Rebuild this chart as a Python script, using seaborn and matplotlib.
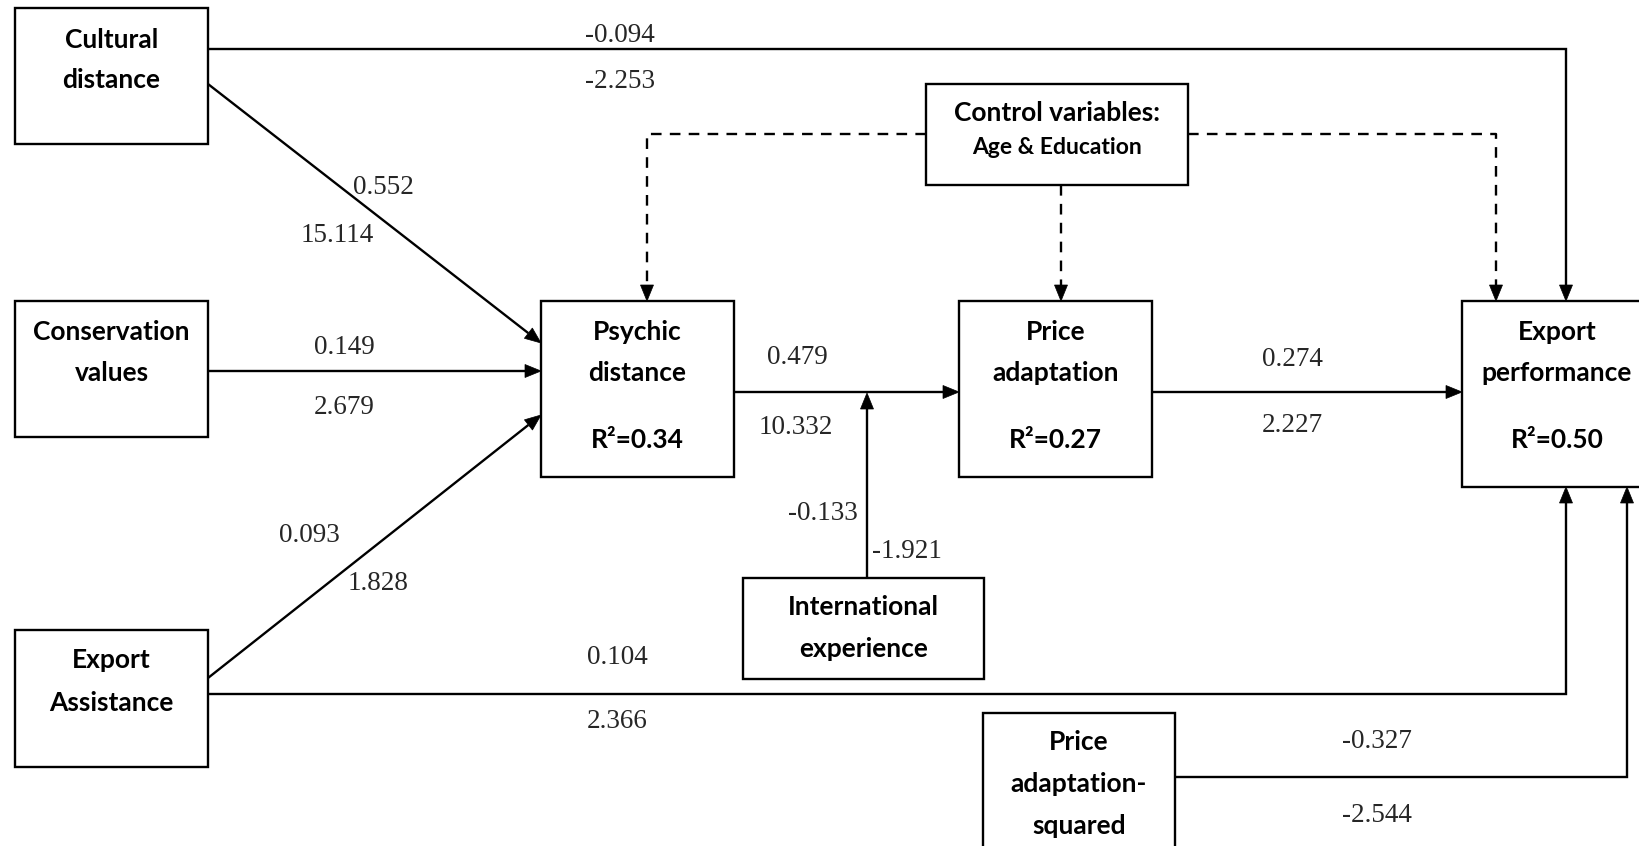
import matplotlib
matplotlib.use("Agg")
import matplotlib.pyplot as plt
from matplotlib.patches import Rectangle, Polygon
import numpy as np
import seaborn as sns

# ---------------- data ----------------
node_ids = ["cultural", "conservation", "assist", "psychic", "price",
            "export", "control", "intl", "pricesq"]
node_lines = [["Cultural", "distance"],
              ["Conservation", "values"],
              ["Export", "Assistance"],
              ["Psychic", "distance"],
              ["Price", "adaptation"],
              ["Export", "performance"],
              ["Control variables:", "Age & Education"],
              ["International", "experience"],
              ["Price", "adaptation-", "squared"]]
r_squared = {"psychic": "0.34", "price": "0.27", "export": "0.50"}

path_ids = ["cd_ep", "cd_pd", "cv_pd", "ea_pd", "ea_ep", "pd_pa", "ie_mod", "pa_ep", "pasq_ep"]
path_beta = ["-0.094", "0.552", "0.149", "0.093", "0.104", "0.479", "-0.133", "0.274", "-0.327"]
path_t = ["-2.253", "15.114", "2.679", "1.828", "2.366", "10.332", "-1.921", "2.227", "-2.544"]

# ---------------- layout (pixel space) ----------------
W, H = 1639, 846
boxes = {
    "cultural": (15, 8, 208, 144),
    "conservation": (15, 301, 208, 437),
    "assist": (15, 630, 208, 767),
    "psychic": (541, 301, 734, 477),
    "price": (959, 301, 1152, 477),
    "export": (1462, 301, 1660, 487),
    "control": (926, 84, 1188, 185),
    "intl": (743, 578, 984, 679),
    "pricesq": (983, 713, 1175, 870),
}
text_y = {
    "cultural": [40, 80],
    "conservation": [332, 373],
    "assist": [660, 703],
    "psychic": [332, 373, 440],
    "price": [332, 373, 440],
    "export": [332, 373, 440],
    "control": [113, 148],
    "intl": [607, 649],
    "pricesq": [742, 784, 826],
}
text_x = {"export": 1557}

edges = {
    "cd_ep": [(208, 49), (1566, 49), (1566, 301)],
    "cd_pd": [(208, 84), (541, 343)],
    "cv_pd": [(208, 371), (541, 371)],
    "ea_pd": [(208, 678), (541, 415)],
    "ea_ep": [(208, 694), (1566, 694), (1566, 487)],
    "pd_pa": [(734, 392), (959, 392)],
    "ie_mod": [(867, 578), (867, 393)],
    "pa_ep": [(1152, 392), (1462, 392)],
    "pasq_ep": [(1175, 777), (1627, 777), (1627, 487)],
}
dashed = [
    [(926, 134), (647, 134), (647, 301)],
    [(1061, 185), (1061, 301)],
    [(1188, 134), (1496, 134), (1496, 301)],
]
beta_pos = {"cd_ep": (620, 35), "cd_pd": (383, 188), "cv_pd": (344, 348),
            "ea_pd": (309, 535), "ea_ep": (617, 657), "pd_pa": (797, 358),
            "ie_mod": (823, 513), "pa_ep": (1292, 360), "pasq_ep": (1377, 741)}
t_pos = {"cd_ep": (620, 82), "cd_pd": (337, 235), "cv_pd": (344, 407),
         "ea_pd": (378, 583), "ea_ep": (617, 721), "pd_pa": (796, 428),
         "ie_mod": (907, 551), "pa_ep": (1292, 425), "pasq_ep": (1377, 815)}

# ---------------- drawing ----------------
sns.set_theme(style="white")
plt.rcParams["font.family"] = ["Lato", "DejaVu Sans"]

fig = plt.figure(figsize=(W / 100, H / 100), dpi=100)
ax = fig.add_axes([0, 0, 1, 1])
ax.set_xlim(0, W)
ax.set_ylim(H, 0)
ax.axis("off")

LW = 1.7
SERIF = ["Liberation Serif", "DejaVu Serif"]
BOX_FS = 19
NUM_FS = 19.5


def head(p0, p1, length=16, width=13):
    p0 = np.array(p0, float)
    p1 = np.array(p1, float)
    d = p1 - p0
    d /= np.hypot(*d)
    n = np.array([-d[1], d[0]])
    base = p1 - d * length
    tri = [p1, base + n * width / 2, base - n * width / 2]
    ax.add_patch(Polygon(tri, closed=True, facecolor="black", edgecolor="black", lw=0.5, zorder=4))
    return base


def polyline(pts, ls="-"):
    base = head(pts[-2], pts[-1])
    xs = [p[0] for p in pts[:-1]] + [base[0]]
    ys = [p[1] for p in pts[:-1]] + [base[1]]
    if ls == "-":
        ax.plot(xs, ys, color="black", lw=LW, solid_capstyle="butt", solid_joinstyle="miter", zorder=3)
    else:
        ax.plot(xs, ys, color="black", lw=LW, linestyle=(0, (4.5, 3.5)), dash_capstyle="butt", zorder=3)


for nid, lines in zip(node_ids, node_lines):
    x0, y0, x1, y1 = boxes[nid]
    ax.add_patch(Rectangle((x0, y0), x1 - x0, y1 - y0, fill=True, facecolor="white",
                           edgecolor="black", lw=LW, zorder=2))
    cx = text_x.get(nid, (x0 + x1) / 2)
    ys = text_y[nid]
    for i, line in enumerate(lines):
        size = 16.5 if (nid == "control" and i == 1) else BOX_FS
        ax.text(cx, ys[i], line, ha="center", va="center", fontsize=size,
                fontweight="bold", color="black", zorder=5)
    if nid in r_squared:
        ax.text(cx, ys[len(lines)], "R\u00b2=" + r_squared[nid], ha="center", va="center",
                fontsize=BOX_FS, fontweight="bold", color="black", zorder=5)

for pid in path_ids:
    polyline(edges[pid])
for pts in dashed:
    polyline(pts, ls="--")

for pid, b, t in zip(path_ids, path_beta, path_t):
    ax.text(*beta_pos[pid], b, ha="center", va="center", fontsize=NUM_FS, family=SERIF, zorder=5)
    ax.text(*t_pos[pid], t, ha="center", va="center", fontsize=NUM_FS, family=SERIF, zorder=5)

fig.savefig("out.png", dpi=100, facecolor="white")
